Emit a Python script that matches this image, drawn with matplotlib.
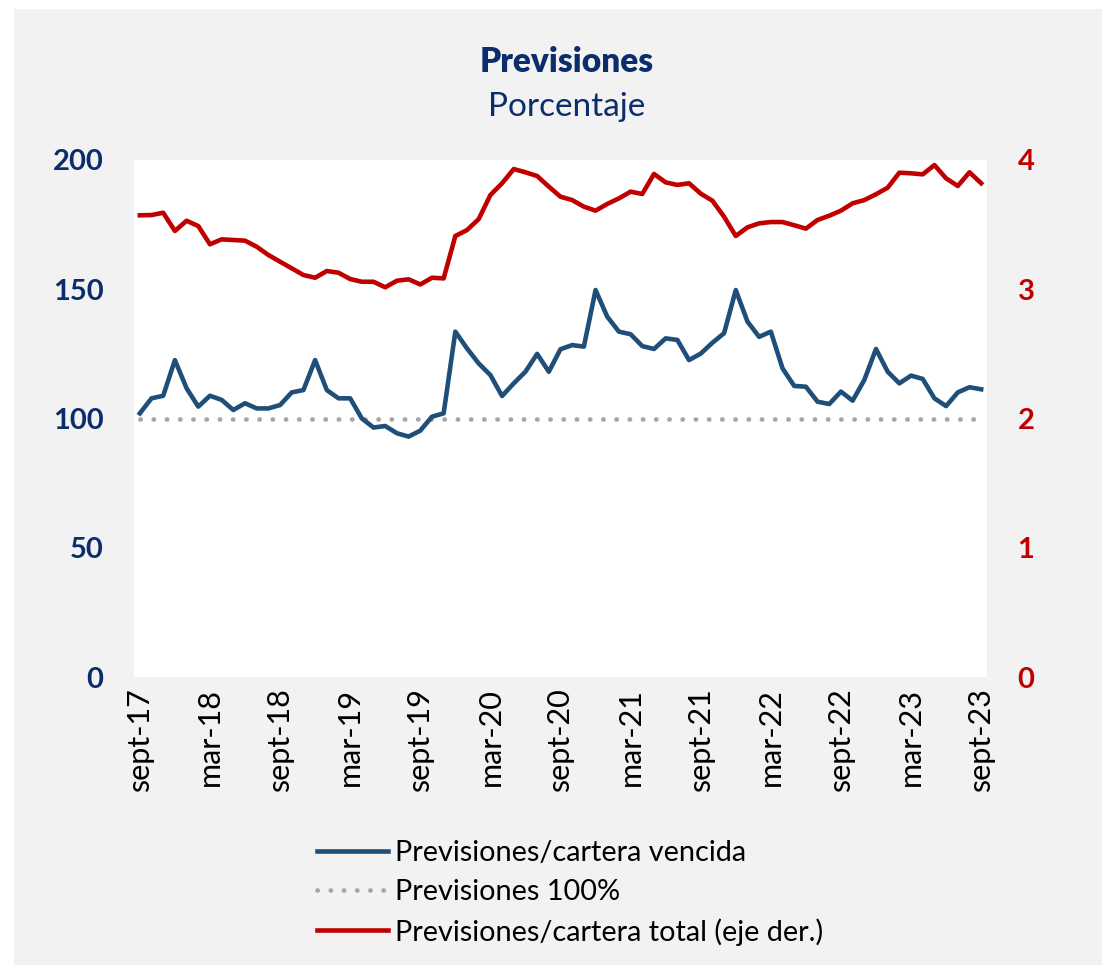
"""Previsiones: provisions / past-due and total portfolio, monthly sept-17 to sept-23."""
import matplotlib
matplotlib.use("Agg")
import matplotlib.pyplot as plt
from matplotlib.patches import Rectangle
from matplotlib.lines import Line2D

NAVY = "#0b2d6b"
BLUE = "#1f4e79"
RED = "#c00000"
GREY = "#a6a6a6"
BG = "#f2f2f2"

plt.rcParams["font.family"] = ["Lato", "DejaVu Sans"]

# monthly, sept-17 .. sept-23
vencida = [102.0, 107.8, 108.8, 122.6, 111.7, 104.6, 108.8, 107.2, 103.3, 105.9,
           103.9, 103.9, 105.2, 110.1, 111.0, 122.6, 111.0, 107.8, 107.8, 100.0,
           96.5, 97.1, 94.3, 93.0, 95.3, 100.7, 102.0, 133.6, 127.1, 121.3,
           116.8, 108.7, 113.6, 118.1, 125.0, 118.1, 126.8, 128.4, 127.8, 149.7,
           139.4, 133.6, 132.6, 128.0, 126.9, 131.0, 130.4, 122.6, 125.1, 129.3,
           133.0, 149.7, 137.5, 131.6, 133.6, 119.4, 112.6, 112.3, 106.5, 105.6,
           110.4, 106.9, 114.9, 126.9, 118.1, 113.6, 116.6, 115.3, 107.8, 104.8,
           110.1, 112.1, 111.3]
total = [3.572, 3.574, 3.592, 3.451, 3.530, 3.489, 3.348, 3.386, 3.381, 3.376,
         3.329, 3.265, 3.213, 3.162, 3.110, 3.089, 3.141, 3.128, 3.079, 3.058,
         3.058, 3.015, 3.066, 3.077, 3.037, 3.089, 3.084, 3.412, 3.458, 3.543,
         3.729, 3.820, 3.930, 3.905, 3.876, 3.794, 3.716, 3.690, 3.639, 3.608,
         3.660, 3.703, 3.755, 3.737, 3.892, 3.827, 3.807, 3.820, 3.740, 3.685,
         3.561, 3.412, 3.479, 3.510, 3.520, 3.520, 3.495, 3.469, 3.536, 3.569,
         3.608, 3.665, 3.690, 3.735, 3.786, 3.902, 3.897, 3.889, 3.961, 3.858,
         3.799, 3.905, 3.820]
tick_labels = ["sept-17", "mar-18", "sept-18", "mar-19", "sept-19", "mar-20",
               "sept-20", "mar-21", "sept-21", "mar-22", "sept-22", "mar-23",
               "sept-23"]
umbral = 100

x = list(range(len(vencida)))

fig = plt.figure(figsize=(11.02, 9.65), dpi=100, facecolor="white")
fig.patches.append(Rectangle((14 / 1102, 0), 1, 956 / 965, transform=fig.transFigure,
                             facecolor=BG, edgecolor="none", zorder=-10))

ax = fig.add_axes([134 / 1102, 1 - 677 / 965, 853 / 1102, 517 / 965])
ax.set_facecolor("white")
ax2 = ax.twinx()

dots = (0, (0.05, 2.75))
ax.plot(x, [umbral] * len(x), color=GREY, lw=3.4, ls=dots,
        dash_capstyle="round", zorder=2)
ax.plot(x, vencida, color=BLUE, lw=3.3, solid_joinstyle="round", zorder=3)
ax2.plot(x, total, color=RED, lw=3.3, solid_joinstyle="round", zorder=3)

ax.set_xlim(-0.5, len(x) - 0.5)
ax.set_ylim(0, 200)
ax2.set_ylim(0, 4)
ax.set_yticks([0, 50, 100, 150, 200])
ax2.set_yticks([0, 1, 2, 3, 4])
ax.set_xticks(range(0, len(x), 6))
ax.set_xticklabels(tick_labels, rotation=90, fontsize=22, color="black")

ax.tick_params(axis="y", length=0, pad=22, labelsize=21, labelcolor=NAVY)
ax2.tick_params(axis="y", length=0, pad=22, labelsize=21, labelcolor=RED)
ax.tick_params(axis="x", length=0, pad=8)
for a in (ax, ax2):
    for sp in a.spines.values():
        sp.set_visible(False)
for lab in ax.get_yticklabels() + ax2.get_yticklabels():
    lab.set_fontweight("bold")

fig.text(0.514, 1 - 62 / 965, "Previsiones", ha="center", va="center",
         fontsize=24, fontweight="heavy", color=NAVY)
fig.text(0.514, 1 - 107 / 965, "Porcentaje", ha="center", va="center",
         fontsize=24, color=NAVY)

handles = [Line2D([], [], color=BLUE, lw=3.3, label="Previsiones/cartera vencida"),
           Line2D([], [], color=GREY, lw=3.4, ls=dots,
                  dash_capstyle="round", label="Previsiones 100%"),
           Line2D([], [], color=RED, lw=3.3, label="Previsiones/cartera total (eje der.)")]
fig.legend(handles=handles, loc="upper left", bbox_to_anchor=(291 / 1102, 1 - 814 / 965),
           frameon=False, fontsize=20.8, handlelength=2.45, handletextpad=0.25,
           labelspacing=0.45)

fig.savefig("out.png", dpi=100, facecolor="white")
